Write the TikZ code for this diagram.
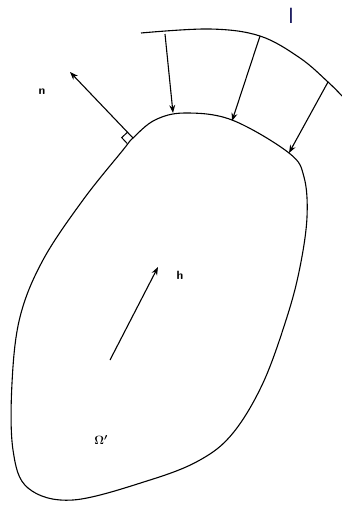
\documentclass[tikz,border=0pt]{standalone}
\usetikzlibrary{arrows.meta}
\begin{document}
\begin{tikzpicture}[x=1pt,y=-1pt,
  curve/.style={line width=1.1pt,black},
  vec/.style={line width=1.1pt,-{Stealth[length=8pt,width=6pt]}},
  lbl/.style={font=\sffamily\bfseries\fontsize{12}{14}\selectfont,inner sep=0pt}]
\useasboundingbox (0,0) rectangle (341,506);
% closed boundary
\draw[curve] plot[smooth cycle,tension=0.6] coordinates{
 (133,138) (155,120) (185,113) (232,120) (289,153) (304,177) (307,217)
 (300,267) (287,317) (263,383) (233,433) (200,460) (150,480) (73,500)
 (28,488) (13,450) (12,383) (20,317) (43,260) (83,200) (123,150)};
% outer curve
\draw[curve] plot[smooth,tension=0.6] coordinates{
 (141,33) (210,29) (260,36) (300,58) (328,82) (343,97)};
% coordinates of arrow ends
\coordinate (a1s) at (165,34);  \coordinate (a1e) at (173,113);
\coordinate (a2s) at (260,36);  \coordinate (a2e) at (232,121);
\coordinate (a3s) at (328,82);  \coordinate (a3e) at (289,153);
\coordinate (ns) at (133,138);  \coordinate (ne) at (70,72);
\coordinate (hs) at (110,360);  \coordinate (he) at (158,267);
\draw[vec] (a1s) -- (a1e);
\draw[vec] (a2s) -- (a2e);
\draw[vec] (a3s) -- (a3e);
\draw[vec] (ns) -- (ne);
\draw[vec] (hs) -- (he);
% right angle marker
\draw[line width=1pt] (127.5,132.2) -- (121.7,137.6) -- (127.2,143.5);
% labels
\node[lbl] (n) at (42,92) {n};
\node[lbl] (h) at (180,275) {h};
\node[font=\sffamily\fontsize{22}{24}\selectfont,inner sep=0pt,text=black!70!blue] (I) at (291,16) {l};
\node[font=\fontsize{13}{15}\selectfont\boldmath,inner sep=0pt] (om) at (101,440) {$\Omega'$};
\end{tikzpicture}
\end{document}
